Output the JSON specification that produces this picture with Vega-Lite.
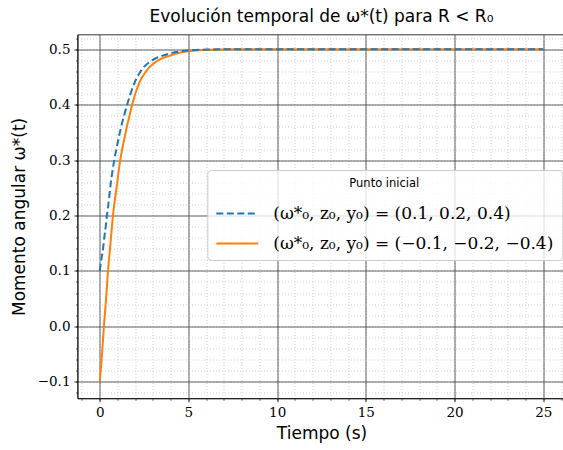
{
  "$schema": "https://vega.github.io/schema/vega-lite/v6.json",
  "width": 488,
  "height": 363.8,
  "autosize": {"type": "none"},
  "padding": {"left": 77.5, "top": 34.5, "right": -2.5, "bottom": 51.7},
  "background": "white",
  "title": {
    "text": "Evolución temporal de ω*(t) para R < R₀",
    "font": "DejaVu Sans",
    "fontSize": 17,
    "fontWeight": "normal",
    "color": "black",
    "offset": 9
  },
  "config": {
    "view": {"stroke": "black", "strokeWidth": 0.8},
    "axis": {
      "labelFont": "DejaVu Serif",
      "labelFontSize": 13.5,
      "labelColor": "black",
      "titleFont": "DejaVu Sans",
      "titleFontSize": 17,
      "titleFontWeight": "normal",
      "titleColor": "black",
      "tickColor": "black",
      "domainColor": "black",
      "domainWidth": 0.8
    },
    "legend": {
      "orient": "none",
      "legendX": 129.8,
      "legendY": 135.5,
      "fillColor": "rgba(255,255,255,0.8)",
      "strokeColor": "#cccccc",
      "cornerRadius": 4,
      "padding": 8,
      "titleFont": "DejaVu Sans",
      "titleFontSize": 11.5,
      "titleFontWeight": "normal",
      "titleColor": "black",
      "titleAnchor": "middle",
      "titlePadding": 2,
      "labelFont": "DejaVu Serif",
      "labelFontSize": 17,
      "labelColor": "black",
      "labelLimit": 400,
      "labelOffset": 14,
      "symbolType": "stroke",
      "symbolSize": 1764,
      "symbolStrokeWidth": 2,
      "rowPadding": -10
    }
  },
  "data": {
    "values": [
      {"t": 0, "w": 0.1, "serie": "a"},
      {"t": 0.05, "w": 0.111, "serie": "a"},
      {"t": 0.09, "w": 0.12, "serie": "a"},
      {"t": 0.19, "w": 0.14, "serie": "a"},
      {"t": 0.26, "w": 0.16, "serie": "a"},
      {"t": 0.34, "w": 0.18, "serie": "a"},
      {"t": 0.41, "w": 0.2, "serie": "a"},
      {"t": 0.49, "w": 0.22, "serie": "a"},
      {"t": 0.56, "w": 0.24, "serie": "a"},
      {"t": 0.63, "w": 0.26, "serie": "a"},
      {"t": 0.72, "w": 0.28, "serie": "a"},
      {"t": 0.82, "w": 0.3, "serie": "a"},
      {"t": 0.94, "w": 0.32, "serie": "a"},
      {"t": 1.07, "w": 0.34, "serie": "a"},
      {"t": 1.21, "w": 0.36, "serie": "a"},
      {"t": 1.37, "w": 0.38, "serie": "a"},
      {"t": 1.55, "w": 0.4, "serie": "a"},
      {"t": 1.74, "w": 0.42, "serie": "a"},
      {"t": 1.97, "w": 0.44, "serie": "a"},
      {"t": 2.3, "w": 0.46, "serie": "a"},
      {"t": 2.95, "w": 0.48, "serie": "a"},
      {"t": 3.6, "w": 0.489, "serie": "a"},
      {"t": 4.3, "w": 0.495, "serie": "a"},
      {"t": 5.0, "w": 0.498, "serie": "a"},
      {"t": 6.0, "w": 0.4995, "serie": "a"},
      {"t": 7.0, "w": 0.5, "serie": "a"},
      {"t": 10, "w": 0.5, "serie": "a"},
      {"t": 15, "w": 0.5, "serie": "a"},
      {"t": 20, "w": 0.5, "serie": "a"},
      {"t": 25, "w": 0.5, "serie": "a"},
      {"t": 0, "w": -0.1, "serie": "b"},
      {"t": 0.11, "w": -0.06, "serie": "b"},
      {"t": 0.24, "w": 0.0, "serie": "b"},
      {"t": 0.36, "w": 0.05, "serie": "b"},
      {"t": 0.47, "w": 0.1, "serie": "b"},
      {"t": 0.61, "w": 0.15, "serie": "b"},
      {"t": 0.75, "w": 0.2, "serie": "b"},
      {"t": 0.95, "w": 0.25, "serie": "b"},
      {"t": 1.16, "w": 0.3, "serie": "b"},
      {"t": 1.27, "w": 0.32, "serie": "b"},
      {"t": 1.4, "w": 0.34, "serie": "b"},
      {"t": 1.53, "w": 0.36, "serie": "b"},
      {"t": 1.68, "w": 0.38, "serie": "b"},
      {"t": 1.83, "w": 0.4, "serie": "b"},
      {"t": 2.01, "w": 0.42, "serie": "b"},
      {"t": 2.24, "w": 0.44, "serie": "b"},
      {"t": 2.61, "w": 0.46, "serie": "b"},
      {"t": 3.3, "w": 0.48, "serie": "b"},
      {"t": 4.0, "w": 0.489, "serie": "b"},
      {"t": 4.7, "w": 0.495, "serie": "b"},
      {"t": 5.5, "w": 0.498, "serie": "b"},
      {"t": 6.5, "w": 0.4995, "serie": "b"},
      {"t": 7.5, "w": 0.5, "serie": "b"},
      {"t": 10, "w": 0.5, "serie": "b"},
      {"t": 15, "w": 0.5, "serie": "b"},
      {"t": 20, "w": 0.5, "serie": "b"},
      {"t": 25, "w": 0.5, "serie": "b"}
    ]
  },
  "resolve": {"axis": {"x": "independent", "y": "independent"}},
  "layer": [
    {
      "transform": [{"filter": "datum.serie == 'b'"}],
      "mark": {"type": "line", "strokeWidth": 2, "interpolate": "monotone"},
      "encoding": {
        "x": {
          "field": "t", "type": "quantitative",
          "scale": {"domain": [-1.25, 26.25], "nice": false, "zero": false},
          "axis": {
            "orient": "bottom",
            "values": [-1, 0, 1, 2, 3, 4, 5, 6, 7, 8, 9, 10, 11, 12, 13, 14, 15, 16, 17, 18, 19, 20, 21, 22, 23, 24, 25, 26],
            "grid": true, "gridColor": "#bdbdbd", "gridWidth": 0.7, "gridDash": [1, 2],
            "ticks": true, "tickSize": 2, "tickWidth": 0.6,
            "labels": false, "domain": false, "title": null
          }
        },
        "y": {
          "field": "w", "type": "quantitative",
          "scale": {"domain": [-0.13, 0.5267], "nice": false, "zero": false},
          "axis": {
            "orient": "left",
            "values": [-0.12, -0.1, -0.08, -0.06, -0.04, -0.02, 0, 0.02, 0.04, 0.06, 0.08, 0.1, 0.12, 0.14, 0.16, 0.18, 0.2, 0.22, 0.24, 0.26, 0.28, 0.3, 0.32, 0.34, 0.36, 0.38, 0.4, 0.42, 0.44, 0.46, 0.48, 0.5, 0.52],
            "grid": true, "gridColor": "#bdbdbd", "gridWidth": 0.7, "gridDash": [1, 2],
            "ticks": true, "tickSize": 2, "tickWidth": 0.6,
            "labels": false, "domain": false, "title": null
          }
        },
        "color": {
          "field": "serie", "type": "nominal", "title": "Punto inicial",
          "scale": {"domain": ["a", "b"], "range": ["#1f77b4", "#ff7f0e"]},
          "legend": {"labelExpr": "datum.value == 'a' ? '(ω*₀, z₀, y₀) = (0.1, 0.2, 0.4)' : '(ω*₀, z₀, y₀) = (−0.1, −0.2, −0.4)'"}
        },
        "strokeDash": {
          "field": "serie", "type": "nominal", "title": "Punto inicial",
          "scale": {"domain": ["a", "b"], "range": [[7, 3.5], [1, 0]]},
          "legend": {"labelExpr": "datum.value == 'a' ? '(ω*₀, z₀, y₀) = (0.1, 0.2, 0.4)' : '(ω*₀, z₀, y₀) = (−0.1, −0.2, −0.4)'"}
        }
      }
    },
    {
      "transform": [{"filter": "datum.serie == 'a'"}],
      "mark": {"type": "line", "strokeWidth": 2, "interpolate": "monotone"},
      "encoding": {
        "x": {
          "field": "t", "type": "quantitative",
          "axis": {
            "orient": "bottom",
            "values": [0, 5, 10, 15, 20, 25],
            "grid": true, "gridColor": "#3a3a3a", "gridWidth": 0.8,
            "tickSize": 3.5, "tickWidth": 0.8, "labelPadding": 4,
            "title": "Tiempo (s)", "titlePadding": 6
          }
        },
        "y": {
          "field": "w", "type": "quantitative",
          "axis": {
            "orient": "left",
            "values": [-0.1, 0, 0.1, 0.2, 0.3, 0.4, 0.5], "format": ".1f",
            "grid": true, "gridColor": "#3a3a3a", "gridWidth": 0.8,
            "tickSize": 3.5, "tickWidth": 0.8, "labelPadding": 4,
            "title": "Momento angular ω*(t)", "titlePadding": 9
          }
        },
        "color": {"field": "serie", "type": "nominal", "title": "Punto inicial"},
        "strokeDash": {"field": "serie", "type": "nominal", "title": "Punto inicial"}
      }
    }
  ]
}
